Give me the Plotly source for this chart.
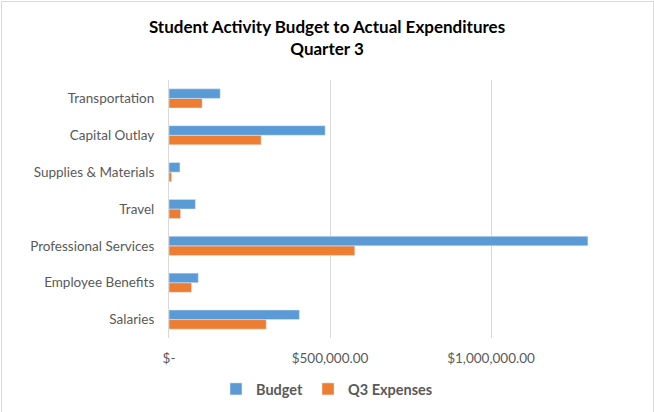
import plotly.graph_objects as go

# Data
categories = ['Salaries', 'Employee Benefits', 'Professional Services', 'Travel',
              'Supplies & Materials', 'Capital Outlay', 'Transportation']
budget = [405000, 91000, 1301000, 82000, 34000, 485000, 159000]
q3_expenses = [302000, 70000, 577000, 36000, 8000, 286000, 103000]
tick_vals = [0, 500000, 1000000]
tick_text = ['$-', '$500,000.00', '$1,000,000.00']

W, H = 654, 412
L, R, T, B = 169, 2, 80, 74
PW, PH = W - L - R, H - T - B

def px_x(p):
    return (p - L) / PW

def px_y(p):
    return 1 - (p - T) / PH

fig = go.Figure()

# horizontal grouped bars are stacked bottom-up: expenses first keeps budget on top
fig.add_trace(go.Bar(
    y=categories, x=q3_expenses, name='Q3 Expenses', orientation='h',
    marker=dict(color='#ED7D31')
))
fig.add_trace(go.Bar(
    y=categories, x=budget, name='Budget', orientation='h',
    marker=dict(color='#5B9BD5')
))

fig.update_layout(
    width=W, height=H,
    paper_bgcolor='white', plot_bgcolor='white',
    font=dict(family='Lato, sans-serif', color='#595959', size=13.5),
    margin=dict(l=L, r=R, t=T, b=B, autoexpand=False),
    barmode='group', bargap=0.48, bargroupgap=0,
    title=dict(
        text='<b>Student Activity Budget to Actual Expenditures<br>Quarter 3</b>',
        x=0.5, xref='container', xanchor='center',
        y=1 - 33 / H, yref='container', yanchor='middle',
        font=dict(size=17, color='#000000', family='Lato, sans-serif'),
    ),
    legend=dict(
        orientation='h', x=0.5, xanchor='center', xref='container',
        y=1 - 389 / H, yref='container', yanchor='middle', traceorder='reversed',
        font=dict(size=14.5, color='#595959', family='Lato, sans-serif', weight='bold'),
        itemwidth=30,
    ),
    xaxis=dict(
        range=[0, 1500000], tickvals=tick_vals, ticktext=tick_text,
        showgrid=True, gridcolor='#D9D9D9', gridwidth=1, zeroline=False,
        showline=False, ticks='', ticklabelstandoff=10, tickangle=0,
        automargin=False, tickfont=dict(size=13.5, color='#595959'),
    ),
    yaxis=dict(
        showgrid=False, zeroline=False, showline=True, linecolor='#D9D9D9',
        linewidth=1, ticks='', ticklabelstandoff=11, automargin=False,
        tickfont=dict(size=13.5, color='#595959'),
    ),
    shapes=[dict(
        type='rect', xref='paper', yref='paper',
        x0=px_x(1.5), x1=px_x(653.5), y0=px_y(414), y1=px_y(1.5),
        line=dict(color='#D9D9D9', width=1), fillcolor='rgba(0,0,0,0)', layer='below'
    )],
)

# the page body has a default 8px margin; drop it so the chart sits at 0,0
fig.write_html('out.html', config={'displayModeBar': False},
               post_script="document.body.style.margin='0';")
